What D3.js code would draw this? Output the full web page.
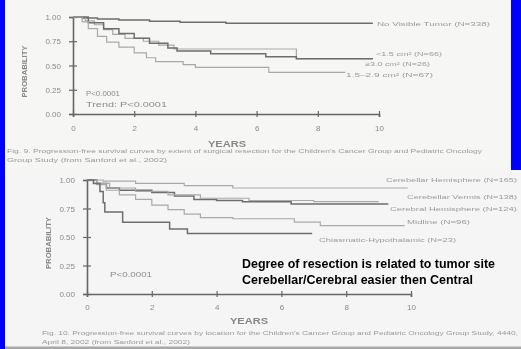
<!DOCTYPE html>
<html>
<head>
<meta charset="utf-8">
<script src="https://cdn.jsdelivr.net/npm/d3@7"></script>
<style>
  html, body { margin: 0; padding: 0; background: #0000fe; }
  svg { display: block; font-family: "Liberation Sans", Arial, sans-serif; }
</style>
</head>
<body>
<svg id="slide" width="521" height="349"></svg>
<script>
// ---- data: top chart (extent of resection) ----
const yTicks = [0, 0.25, 0.5, 0.75, 1];
const xTicks = [0, 2, 4, 6, 8, 10];

const topNames = ['No Visible Tumor (N=338)', '<1.5 cm² (N=66)', '≥3.0 cm² (N=26)', '1.5–2.9 cm²  (N=67)'];
const topYears = [
  [0, 0.3, 0.8, 1.5, 2.5, 3.5, 5, 9.8],
  [0, 0.4, 0.7, 1.0, 1.3, 1.7, 2.3, 2.8, 3.3, 7.3, 9.8],
  [0, 0.5, 1.0, 1.5, 2.0, 2.5, 3.1, 3.4, 4.5, 6.3, 7.3, 9.8],
  [0, 0.3, 0.5, 0.8, 1.1, 1.5, 2.0, 2.4, 2.7, 3.6, 4.0, 6.4, 8.9]
];
const topProbs = [
  [1, 0.99, 0.98, 0.97, 0.955, 0.945, 0.935, 0.935],
  [1, 0.96, 0.92, 0.87, 0.82, 0.78, 0.75, 0.71, 0.67, 0.57, 0.57],
  [1, 0.94, 0.88, 0.83, 0.78, 0.73, 0.68, 0.65, 0.62, 0.59, 0.57, 0.57],
  [1, 0.95, 0.88, 0.80, 0.74, 0.69, 0.63, 0.58, 0.54, 0.51, 0.48, 0.43, 0.43]
];
const topTone = ['dark', 'light', 'dark', 'light'];

// ---- data: bottom chart (tumor location) ----
const botNames = ['Cerebellar Hemisphere (N=165)', 'Cerebellar Vermis (N=138)', 'Cerebral Hemisphere (N=124)', 'Midline (N=96)', 'Chiasmatic-Hypothalamic (N=23)'];
const botYears = [
  [0, 0.5, 1.5, 3, 4.5, 9.9],
  [0, 0.3, 0.6, 1.0, 2.0, 2.7, 3.3, 4.0, 4.8, 6.3, 9.3],
  [0, 0.2, 0.7, 1.5, 2.5, 3.5, 5.0, 7.0, 9.0],
  [0, 0.3, 0.6, 1.0, 1.5, 2.0, 2.5, 3.0, 3.5, 4.5, 6.4, 7.2, 9.8],
  [0, 0.2, 0.4, 0.5, 0.55, 1.1, 2.55, 3.1, 6.95]
];
const botProbs = [
  [1, 0.99, 0.97, 0.95, 0.93, 0.93],
  [1, 0.97, 0.93, 0.91, 0.89, 0.86, 0.83, 0.82, 0.81, 0.79, 0.79],
  [1, 0.97, 0.93, 0.90, 0.87, 0.84, 0.82, 0.81, 0.81],
  [1, 0.96, 0.91, 0.87, 0.83, 0.78, 0.74, 0.70, 0.67, 0.66, 0.63, 0.60, 0.60],
  [1, 0.97, 0.90, 0.80, 0.72, 0.63, 0.57, 0.53, 0.53]
];
const botTone = ['light', 'dark', 'light', 'light', 'dark'];

const toneColor = { dark: '#6e6e6e', light: '#a9a9a9' };

const svg = d3.select('#slide');

// scan look: slight blur
svg.append('defs').append('filter').attr('id', 'scan')
  .append('feGaussianBlur').attr('stdDeviation', 0.45);

// panels
svg.append('rect').attr('x', 5).attr('y', 0).attr('width', 506).attr('height', 172).attr('fill', '#f6f6f4');
svg.append('rect').attr('x', 5).attr('y', 170).attr('width', 516).attr('height', 177).attr('fill', '#f5f5f5');
svg.append('rect').attr('x', 5).attr('y', 346.5).attr('width', 516).attr('height', 2.5).attr('fill', '#a8a8a8');

function drawChart(cfg) {
  const g = svg.append('g').attr('filter', 'url(#scan)');
  const x = d3.scaleLinear().domain([0, 10]).range(cfg.xRange);
  const y = d3.scaleLinear().domain([0, 1]).range(cfg.yRange);

  const yAxis = d3.axisLeft(y).tickValues(yTicks).tickFormat(d3.format('.2f')).tickSize(4).tickPadding(cfg.yPad);
  const xAxis = d3.axisBottom(x).tickValues(xTicks).tickFormat(d3.format('d')).tickSize(3).tickPadding(cfg.xPad);

  const ya = g.append('g').attr('transform', `translate(${cfg.xRange[0]},0)`).call(yAxis);
  ya.selectAll('.tick line').attr('x1', 4);
  const xa = g.append('g').attr('transform', `translate(0,${cfg.yRange[0]})`).call(xAxis);
  xa.selectAll('.tick line').attr('y1', -3);

  [ya, xa].forEach(a => {
    a.select('.domain').attr('stroke', '#666').attr('stroke-width', 1.6);
    a.selectAll('.tick line').attr('stroke', '#666').attr('stroke-width', 1.2);
    a.selectAll('.tick text').attr('fill', '#8a8a8a').attr('font-size', 8);
  });

  // axis titles
  g.append('text')
    .attr('transform', `translate(${cfg.probX},${(cfg.yRange[0] + cfg.yRange[1]) / 2 + 6}) rotate(-90)`)
    .attr('text-anchor', 'middle').attr('font-size', 7).attr('font-weight', 'bold')
    .attr('fill', '#888').attr('textLength', 52).attr('lengthAdjust', 'spacingAndGlyphs')
    .text('PROBABILITY');
  g.append('text')
    .attr('x', cfg.yearsX).attr('y', cfg.yearsY)
    .attr('text-anchor', 'middle').attr('font-size', 8.5).attr('font-weight', 'bold')
    .attr('fill', '#888').attr('textLength', 38).attr('lengthAdjust', 'spacingAndGlyphs')
    .text('YEARS');

  const line = d3.line().x(d => x(d[0])).y(d => y(d[1])).curve(d3.curveStepAfter);

  cfg.names.forEach((name, i) => {
    const pts = cfg.years[i].map((t, j) => [t, cfg.probs[i][j]]);
    g.append('path')
      .attr('d', line(pts))
      .attr('fill', 'none')
      .attr('stroke', toneColor[cfg.tone[i]])
      .attr('stroke-width', cfg.tone[i] === 'dark' ? 1.5 : 1.2);

    const lab = cfg.labels[i];
    g.append('text')
      .attr('x', lab.x).attr('y', lab.y).attr('dy', '0.35em')
      .attr('font-size', 6).attr('fill', '#9a9a9a')
      .attr('textLength', lab.w).attr('lengthAdjust', 'spacingAndGlyphs')
      .text(name);
  });

  cfg.notes.forEach(n => {
    g.append('text')
      .attr('x', n.x).attr('y', n.y).attr('dy', '0.35em')
      .attr('font-size', 6.5).attr('fill', '#8a8a8a')
      .attr('textLength', n.w).attr('lengthAdjust', 'spacingAndGlyphs')
      .text(n.text);
  });

  cfg.caption.forEach(c => {
    g.append('text')
      .attr('x', c.x).attr('y', c.y).attr('dy', '0.35em')
      .attr('font-size', 5.5).attr('fill', '#999')
      .attr('textLength', c.w).attr('lengthAdjust', 'spacingAndGlyphs')
      .text(c.text);
  });
}

drawChart({
  xRange: [73, 379], yRange: [114, 17], yPad: 8, xPad: 8,
  probX: 27, yearsX: 227, yearsY: 147,
  names: topNames, years: topYears, probs: topProbs, tone: topTone,
  labels: [
    { x: 377, y: 24, w: 113 },
    { x: 376, y: 54, w: 66 },
    { x: 365, y: 64, w: 65 },
    { x: 346, y: 75, w: 87 }
  ],
  notes: [
    { x: 86, y: 94, w: 34, text: 'P<0.0001' },
    { x: 86, y: 105, w: 81, text: 'Trend: P<0.0001' }
  ],
  caption: [
    { x: 7, y: 151, w: 475, text: "Fig. 9. Progression-free survival curves by extent of surgical resection for the Children's Cancer Group and Pediatric Oncology" },
    { x: 7, y: 160, w: 160, text: 'Group Study (from Sanford et al., 2002)' }
  ]
});

drawChart({
  xRange: [87, 411], yRange: [294, 180], yPad: 8, xPad: 7,
  probX: 51, yearsX: 249, yearsY: 324,
  names: botNames, years: botYears, probs: botProbs, tone: botTone,
  labels: [
    { x: 386, y: 180, w: 131 },
    { x: 407, y: 197, w: 110 },
    { x: 390, y: 209, w: 127 },
    { x: 407, y: 222, w: 63 },
    { x: 319, y: 240, w: 137 }
  ],
  notes: [
    { x: 110, y: 275, w: 42, text: 'P<0.0001' }
  ],
  caption: [
    { x: 42, y: 333, w: 476, text: "Fig. 10. Progression-free survival curves by location for the Children's Cancer Group and Pediatric Oncology Group Study, 4440," },
    { x: 42, y: 342, w: 148, text: 'April 8, 2002 (from Sanford et al., 2002)' }
  ]
});

// overlay statement
const note = svg.append('g').attr('font-weight', 'bold').attr('font-size', 12.5).attr('fill', '#000');
note.append('text').attr('x', 242).attr('y', 268)
  .attr('textLength', 253).attr('lengthAdjust', 'spacingAndGlyphs')
  .text('Degree of resection is related to tumor site');
note.append('text').attr('x', 242).attr('y', 284)
  .attr('textLength', 231).attr('lengthAdjust', 'spacingAndGlyphs')
  .text('Cerebellar/Cerebral easier then Central');
</script>
</body>
</html>
